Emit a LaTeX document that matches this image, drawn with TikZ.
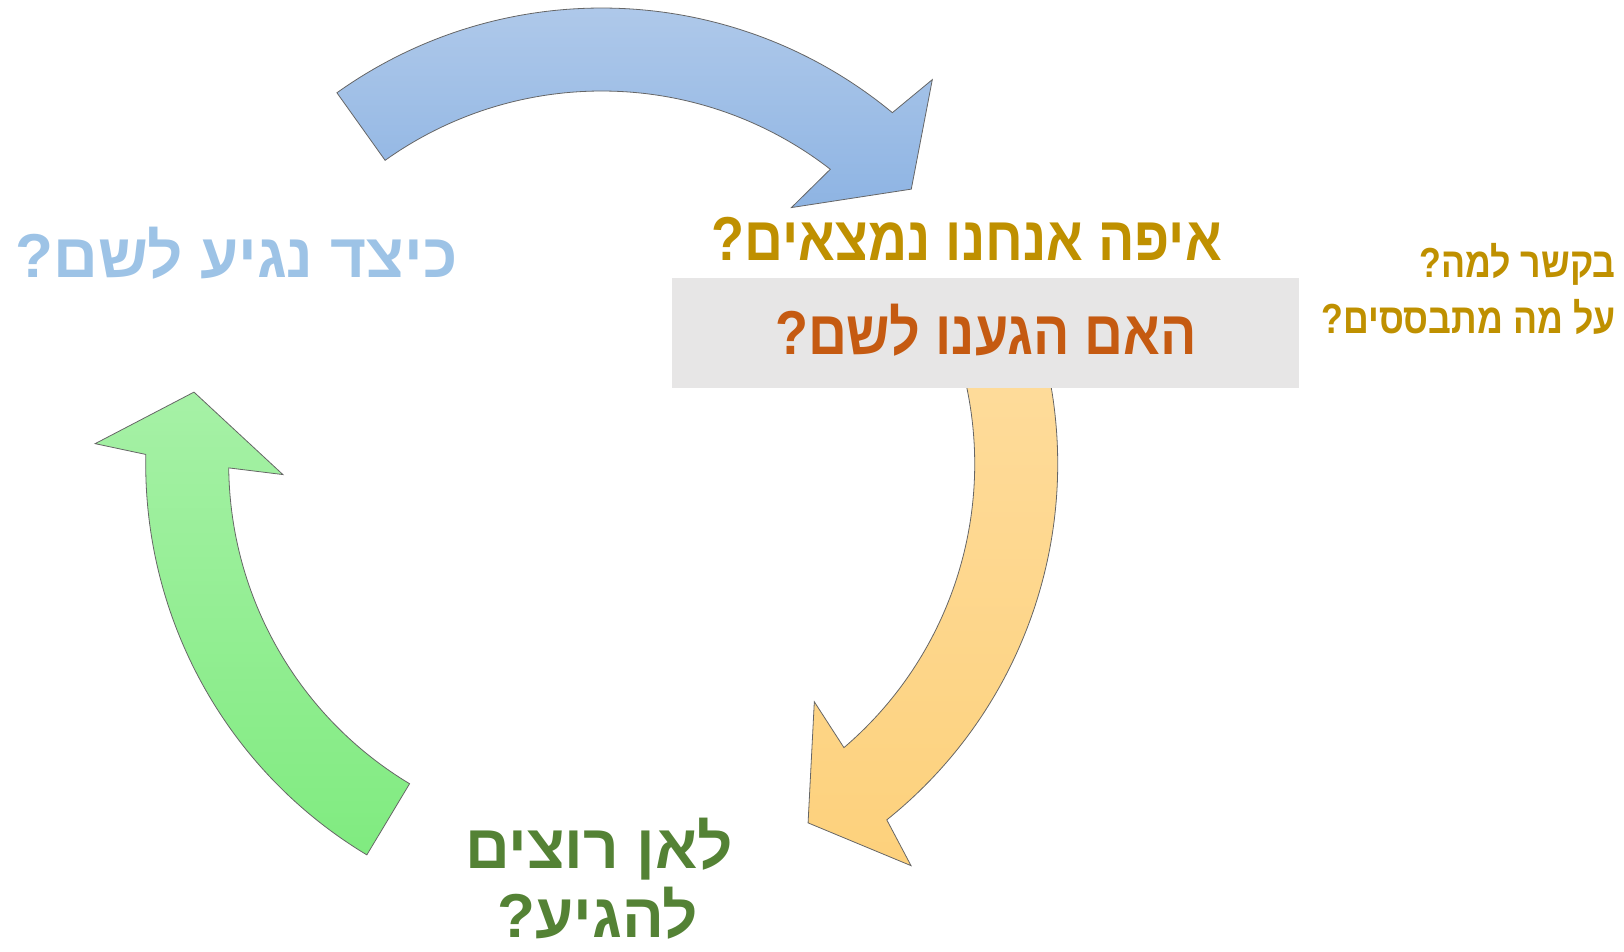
\documentclass[tikz,border=0pt]{standalone}
\usepackage{fontspec}
\usepackage{xcolor}
\usepackage{tikz}
\usetikzlibrary{positioning}
\TeXXeTstate=1
\newfontfamily\hebfont[Script=Hebrew]{Liberation Sans}
\newfontfamily\hebnarrow[Script=Hebrew, FakeStretch=0.87]{Liberation Sans}
\newfontfamily\hebsmall[Script=Hebrew, FakeStretch=0.85]{Liberation Sans}

\definecolor{qblue}{HTML}{9DC3E6}
\definecolor{qgold}{HTML}{BF9000}
\definecolor{qorange}{HTML}{C55A11}
\definecolor{qgreen}{HTML}{548235}
\definecolor{boxgray}{HTML}{E7E6E6}
\definecolor{bluetop}{HTML}{B4CCEB}
\definecolor{bluebot}{HTML}{8EB4E3}
\definecolor{greentop}{HTML}{A6F1A6}
\definecolor{greenbot}{HTML}{80EB80}
\definecolor{orangetop}{HTML}{FEDC9C}
\definecolor{orangebot}{HTML}{FDD17C}

\tikzset{
  cycarrow/.style={draw=black!60, line width=0.8pt},
  bigq/.style={font=\hebfont\bfseries\fontsize{62}{69}\selectfont, inner sep=0pt},
  narrowq/.style={font=\hebnarrow\bfseries\fontsize{62}{69}\selectfont, inner sep=0pt},
  smallq/.style={font=\hebsmall\bfseries\fontsize{42}{48}\selectfont, inner sep=0pt},
}

% #1 tail angle, #2 base angle of the head, #3 top colour, #4 bottom colour
\newcommand\cyclearrow[4]{%
  \pgfmathsetmacro\angout{#2-0.9}%
  \pgfmathsetmacro\angin{#2+0.9}%
  \pgfmathsetmacro\barbout{#2-2}%
  \pgfmathsetmacro\barbin{#2+2.2}%
  \pgfmathsetmacro\angtip{#2-9.7}%
  \draw[cycarrow, top color=#3, bottom color=#4]
    (#1:456) arc[start angle=#1, end angle=\angout, radius=456]
    -- (\barbout:507) -- (\angtip:414) -- (\barbin:319) -- (\angin:373)
    arc[start angle=\angin, end angle=#1, radius=373] -- cycle;
}

\begin{document}
\begin{tikzpicture}[x=1pt, y=1pt]
  \useasboundingbox (0,0) rectangle (1624,951);

  % the three arrows of the cycle
  \begin{scope}[shift={(601.7,487)}]
    \cyclearrow{125.5}{51.3}{bluetop}{bluebot}
    \cyclearrow{239}{179.7}{greentop}{greenbot}
    \cyclearrow{15}{-50.4}{orangetop}{orangebot}
  \end{scope}

  % box over the tail of the orange arrow
  \fill[boxgray] (672,562.6) rectangle (1299,673.4);

  \node[bigq, text=qblue, anchor=base] (how) at (236.7,673.4) {\beginR כיצד נגיע לשם?\endR};
  \node[narrowq, text=qgold, anchor=base] (where) at (966.8,690) {\beginR איפה אנחנו נמצאים?\endR};
  \node[narrowq, text=qorange, anchor=base] (arrived) at (986,596) {\beginR האם הגענו לשם?\endR};
  \node[smallq, text=qgold, anchor=base east] (about) at (1615.7,673.4) {\beginR בקשר למה?\endR};
  \node[smallq, text=qgold, anchor=base east] (basis) at (1615.7,617.5) {\beginR על מה מתבססים?\endR};
  \node[bigq, text=qgreen, anchor=base] (goal1) at (599,83) {\beginR לאן רוצים\endR};
  \node[bigq, text=qgreen, anchor=base] (goal2) at (598,14) {\beginR להגיע?\endR};
\end{tikzpicture}
\end{document}
